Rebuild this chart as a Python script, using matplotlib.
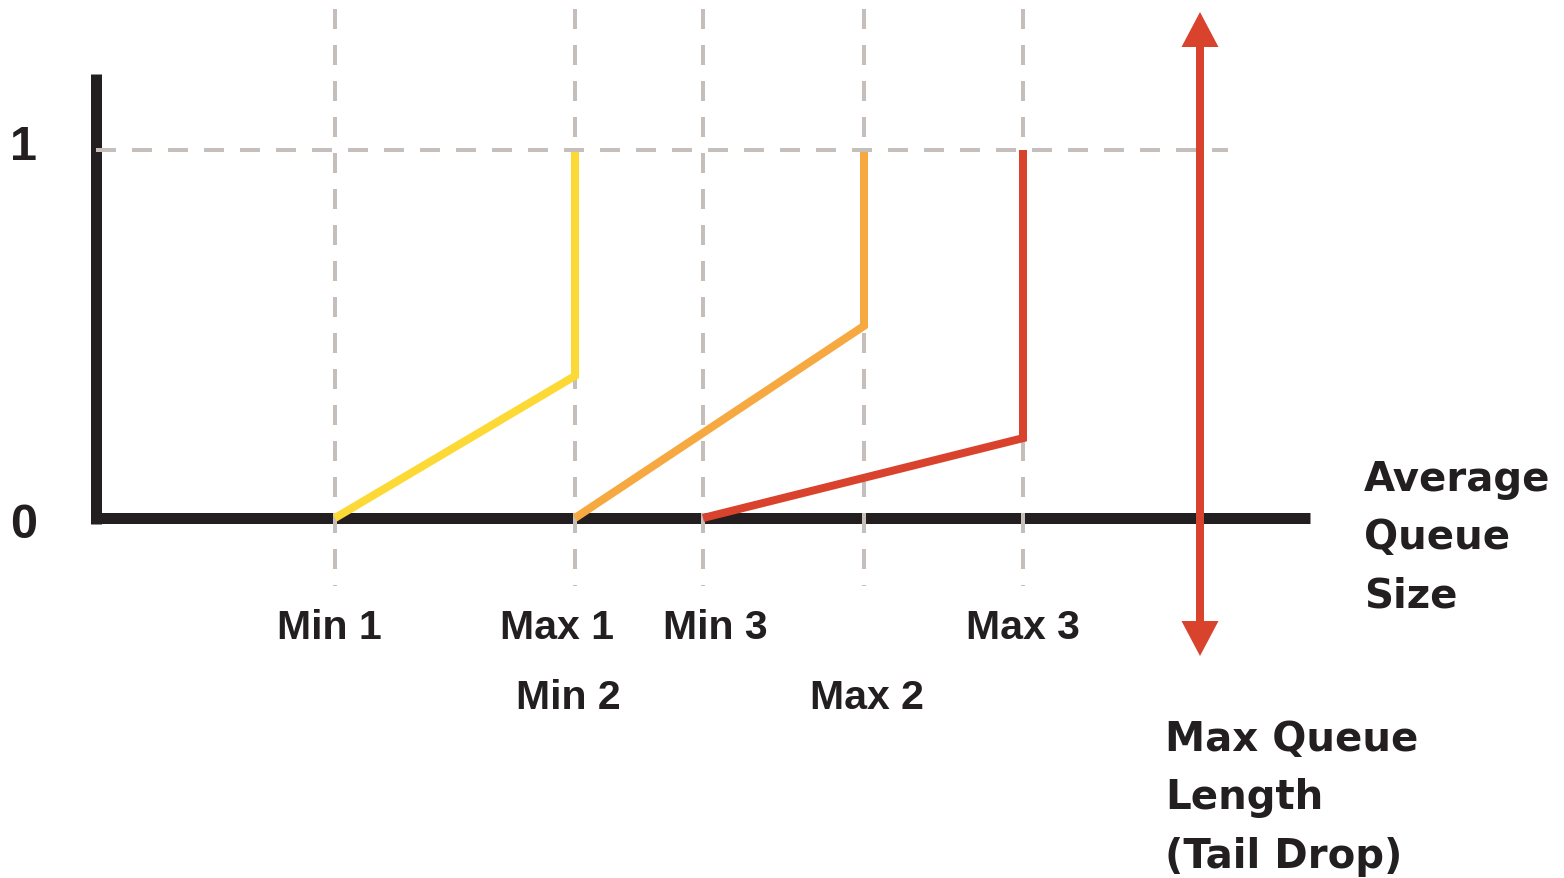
import matplotlib
matplotlib.use("Agg")
import matplotlib.pyplot as plt

# --- Data -------------------------------------------------------------------
# Queue thresholds (queue-size units, origin at the y axis)
min_thresholds = [239, 479, 607]          # Min 1, Min 2, Min 3
max_thresholds = [479, 768, 927]          # Max 1, Max 2, Max 3
max_queue_length = 1104                   # tail-drop limit
axis_end = 1214                           # end of the queue-size axis

# Drop probability reached at each max threshold (before jumping to 1)
max_probability = [0.386, 0.522, 0.217]
series_colors = ["#fdd936", "#f7a941", "#d9432d"]

# Threshold labels: (text, x anchor, row)
threshold_labels = ["Min 1", "Max 1", "Min 3", "Max 3", "Min 2", "Max 2"]
label_x = [233, 461, 619, 927, 472, 771]
label_row = [0, 0, 0, 0, 1, 1]

y_tick_values = [0, 1]
y_tick_labels = ["0", "1"]

# --- Style ------------------------------------------------------------------
INK = "#231f20"
GRID = "#c5bebb"
ARROW = "#d9432d"
PX = 0.72  # points per pixel at 100 dpi


def py_to_y(py):
    """Convert a vertical pixel offset to probability units."""
    return (519 - py) / 368.0


fig = plt.figure(figsize=(15.64, 8.79), dpi=100)
ax = fig.add_axes([0, 0, 1, 1])
ax.set_xlim(-96, 1468)
ax.set_ylim(py_to_y(879), py_to_y(0))
ax.axis("off")

# Axes drawn as thick black lines
ax.plot([-0.5, -0.5], [py_to_y(524.5), py_to_y(75)], color=INK,
        lw=11 * PX, solid_capstyle="butt", zorder=2)
ax.plot([5, axis_end], [0, 0], color=INK, lw=11 * PX,
        solid_capstyle="butt", zorder=2)

# Dashed guide lines at each threshold
dash = dict(color=GRID, lw=4 * PX, dashes=(5, 4), dash_capstyle="butt")
for xv in sorted(set(min_thresholds + max_thresholds)):
    ax.plot([xv, xv], [py_to_y(10), py_to_y(587)], zorder=3, **dash)
ax.plot([0, 1132], [1, 1], zorder=5, **dash)

# Drop-probability profiles
for lo, hi, p, c in zip(min_thresholds, max_thresholds, max_probability,
                        series_colors):
    ax.plot([lo, hi, hi], [0, p, 1], color=c, lw=8 * PX,
            solid_capstyle="butt", solid_joinstyle="miter", zorder=4)

# Double-headed arrow marking the maximum queue length
head_len = py_to_y(13) - py_to_y(48)
head_half = 18.5
top_tip, bot_tip = py_to_y(13), py_to_y(657)
ax.plot([max_queue_length, max_queue_length],
        [top_tip - head_len + 0.005, bot_tip + head_len - 0.005],
        color=ARROW, lw=8 * PX, solid_capstyle="butt", zorder=6)
ax.fill([max_queue_length - head_half, max_queue_length + head_half,
         max_queue_length],
        [top_tip - head_len, top_tip - head_len, top_tip],
        color=ARROW, lw=0, zorder=6)
ax.fill([max_queue_length - head_half, max_queue_length + head_half,
         max_queue_length],
        [bot_tip + head_len, bot_tip + head_len, bot_tip],
        color=ARROW, lw=0, zorder=6)

# Y tick labels
tick_font = dict(family=["Liberation Sans", "DejaVu Sans"], weight="bold",
                 size=35, color=INK)
tick_baseline = {0: py_to_y(538), 1: py_to_y(160)}
for v, t in zip(y_tick_values, y_tick_labels):
    ax.text(-86, tick_baseline[v], t, ha="left", va="baseline", **tick_font)

# Threshold labels
label_font = dict(family=["Liberation Sans", "DejaVu Sans"], weight="bold",
                  size=29.5, color=INK)
row_baseline = [py_to_y(639.5), py_to_y(709.5)]
for t, xv, r in zip(threshold_labels, label_x, label_row):
    ax.text(xv, row_baseline[r], t, ha="center", va="baseline", **label_font)

# Axis captions (anchored on the baseline of their last line)
cap_font = dict(family=["DejaVu Sans"], weight="bold", size=29, color=INK,
                linespacing=1.60)
ax.text(1268, py_to_y(608), "Average\nQueue\nSize", ha="left",
        va="baseline", **cap_font)
ax.text(1069, py_to_y(868), "Max Queue\nLength\n(Tail Drop)", ha="left",
        va="baseline", **cap_font)

fig.savefig("out.png", dpi=100)
